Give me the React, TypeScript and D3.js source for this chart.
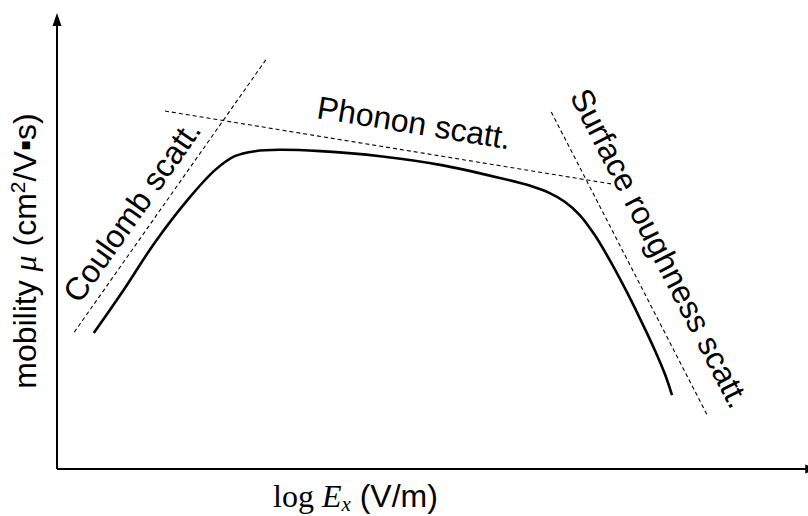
import React from "react";
import * as d3 from "d3";

// Mobility vs. field: qualitative curve (x: log E, y: mobility), arbitrary units 0..100
const curveX = [4.9, 8.7, 13.1, 17.5, 21.1, 23.7, 26.4, 29.7, 35.1, 43.1, 51.1, 59.1, 63.1, 65.7, 67.7, 69.7, 71.7, 73.7, 75.7, 77.7, 79.7, 81.1, 82.0];
const curveY = [29.8, 38.8, 49.8, 59.2, 65.6, 68.6, 69.7, 70.0, 69.7, 68.6, 66.7, 63.8, 62.1, 60.5, 58.6, 55.7, 51.3, 45.8, 39.7, 33.1, 26.1, 20.6, 16.2];

// Asymptotic limits of each scattering mechanism (start / end points)
const limitNames = ["Coulomb scatt.", "Phonon scatt.", "Surface roughness scatt."];
const limitX0 = [2.3, 14.4, 65.9];
const limitY0 = [30.0, 78.5, 78.3];
const limitX1 = [28.0, 74.0, 86.7];
const limitY1 = [90.1, 62.5, 11.8];

// Where each mechanism's label starts along its line
const labelX = [3.0, 34.5, 68.3];
const labelY = [36.0, 77.0, 81.8];

const W = 808;
const H = 516;
const SANS = "'Liberation Sans', Arial, sans-serif";
const SERIF = "'Liberation Serif', 'Times New Roman', serif";

export default function App() {
  const x = d3.scaleLinear().domain([0, 100]).range([57, 807]);
  const y = d3.scaleLinear().domain([0, 100]).range([469, 13]);

  const pts: [number, number][] = curveX.map((v, i) => [v, curveY[i]]);
  const line = d3
    .line<[number, number]>()
    .x((d) => x(d[0]))
    .y((d) => y(d[1]))
    .curve(d3.curveCatmullRom.alpha(0.5));

  const x0 = x(0);
  const y0 = y(0);
  const yTop = y(100);
  const xTip = x(101.5);

  return (
    <svg
      width={W}
      height={H}
      viewBox={`0 0 ${W} ${H}`}
      style={{ position: "absolute", left: 0, top: 0, background: "#fff" }}
    >
      <rect width={W} height={H} fill="#fff" />

      {/* axes */}
      <line x1={x0} y1={y0} x2={x0} y2={yTop + 8} stroke="#000" strokeWidth={2} />
      <path d={`M${x0},${yTop} L${x0 - 4.5},${yTop + 13} L${x0 + 4.5},${yTop + 13} Z`} fill="#000" />
      <line x1={x0} y1={y0} x2={xTip - 8} y2={y0} stroke="#000" strokeWidth={2} />
      <path d={`M${xTip},${y0} L${xTip - 13},${y0 - 4.5} L${xTip - 13},${y0 + 4.5} Z`} fill="#000" />

      {/* scattering limits */}
      {limitNames.map((n, i) => (
        <line
          key={n}
          x1={x(limitX0[i])}
          y1={y(limitY0[i])}
          x2={x(limitX1[i])}
          y2={y(limitY1[i])}
          stroke="#000"
          strokeWidth={1.1}
          strokeDasharray="4 3"
        />
      ))}

      {/* mobility curve */}
      <path d={line(pts) || ""} fill="none" stroke="#000" strokeWidth={2.6} strokeLinecap="butt" />

      {/* mechanism labels, aligned with their lines */}
      {limitNames.map((n, i) => {
        const ang =
          (Math.atan2(y(limitY1[i]) - y(limitY0[i]), x(limitX1[i]) - x(limitX0[i])) * 180) / Math.PI;
        const px = x(labelX[i]);
        const py = y(labelY[i]);
        return (
          <text
            key={n}
            x={px}
            y={py}
            transform={`rotate(${ang},${px},${py})`}
            fontFamily={SANS}
            fontSize={32}
            fill="#000"
          >
            {n}
          </text>
        );
      })}

      {/* axis titles */}
      <text
        x={36}
        y={251}
        transform="rotate(-90,36,251)"
        textAnchor="middle"
        fontFamily={SANS}
        fontSize={32}
        fill="#000"
      >
        mobility{" "}
        <tspan fontFamily={SERIF} fontStyle="italic">μ</tspan>
        {" (cm"}
        <tspan fontSize={21} dy={-11}>2</tspan>
        <tspan dy={11}>/V▪s)</tspan>
      </text>

      <text x={273} y={507} fontFamily={SERIF} fontSize={32} fill="#000">
        log{" "}
        <tspan fontStyle="italic">E</tspan>
        <tspan fontStyle="italic" fontSize={21} dy={4}>x</tspan>
        <tspan dy={-4} fontFamily={SANS}> (V/m)</tspan>
      </text>
    </svg>
  );
}
